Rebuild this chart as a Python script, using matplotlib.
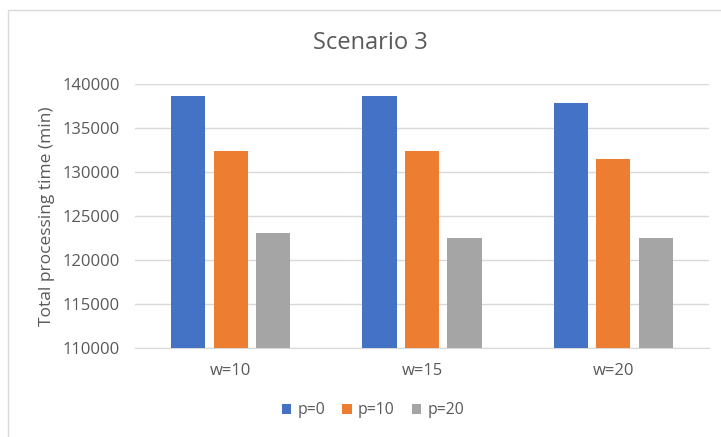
import numpy as np
import matplotlib
matplotlib.use("Agg")
import matplotlib.pyplot as plt
from matplotlib.patches import Rectangle

plt.rcParams["font.family"] = ["Open Sans", "DejaVu Sans"]

categories = ["w=10", "w=15", "w=20"]
series_names = ["p=0", "p=10", "p=20"]
p0 = [138650, 138650, 137880]
p10 = [132450, 132450, 131500]
p20 = [123080, 122550, 122550]
colors = ["#4472C4", "#ED7D31", "#A5A5A5"]

text_col = "#595959"
grid_col = "#d9d9d9"

fig = plt.figure(figsize=(7.21, 4.37), dpi=100)
ax = fig.add_axes([135 / 721, 1 - 347.7 / 437, (709 - 135) / 721, (347.7 - 84.3) / 437])

# outer chart border like excel
fig.patches.append(Rectangle((8 / 721, -0.05), 1.1, 1 - 10 / 437 + 0.05, transform=fig.transFigure,
                             fill=False, edgecolor=grid_col, linewidth=1))

x = np.arange(len(categories))
step = 0.222
width = 0.178
for i, (vals, name) in enumerate(zip([p0, p10, p20], series_names)):
    ax.bar(x + (i - 1) * step, np.array(vals) - 110000, width, bottom=110000,
           color=colors[i], label=name, zorder=3)

ax.set_xlim(-0.5, 2.5)
ax.set_ylim(110000, 140000)
ax.set_yticks(np.arange(110000, 140001, 5000))
ax.set_xticks(x)
ax.set_xticklabels(categories)
ax.grid(axis="y", color=grid_col, linewidth=1, zorder=0)
for s in ["top", "right", "left"]:
    ax.spines[s].set_visible(False)
ax.spines["bottom"].set_color(grid_col)
ax.tick_params(length=0, labelsize=12, colors=text_col)
ax.tick_params(axis="x", pad=11)
ax.tick_params(axis="y", pad=11)

ax.set_ylabel("Total processing time (min)", fontsize=12.5, color=text_col, labelpad=5)
fig.text(370 / 721, 1 - 43 / 437, "Scenario 3", ha="center", va="center", fontsize=17, color=text_col)

leg = fig.legend(loc="center", bbox_to_anchor=(373 / 721, 1 - 410.5 / 437), ncol=3, frameon=False,
                 fontsize=11.3, handlelength=0.6, handleheight=0.6, handletextpad=0.4, columnspacing=1.1)
for t in leg.get_texts():
    t.set_color(text_col)

fig.savefig("out.png", dpi=100)
